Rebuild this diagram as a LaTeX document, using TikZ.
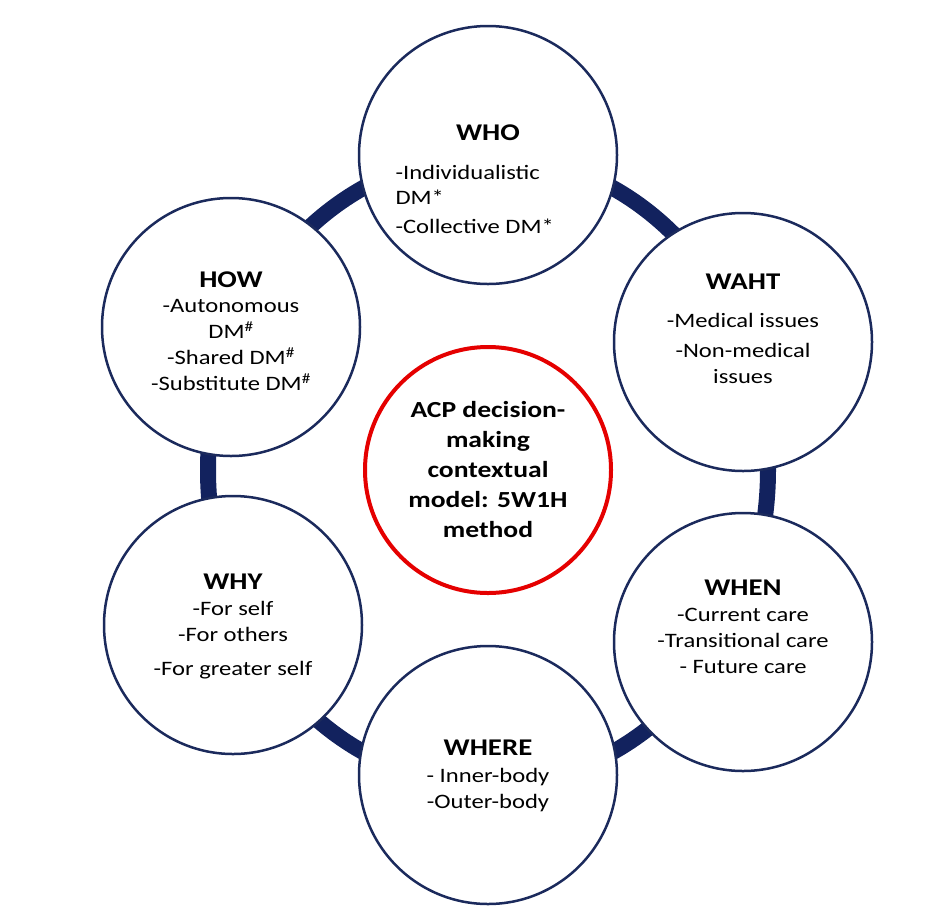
\documentclass[tikz,border=0pt]{standalone}
\usepackage{fontspec}
\setmainfont[FakeStretch=1.2]{Carlito}
\begin{document}
\begin{tikzpicture}[x=1pt,y=-1pt,
  bub/.style={circle,draw=navy,line width=2.5pt,fill=white,minimum size=258pt,inner sep=0pt},
  tx/.style={align=center,font=\fontsize{20.5}{26}\selectfont,anchor=north},
  hd/.style={font=\fontsize{24}{28}\selectfont\bfseries}]
\definecolor{navy}{HTML}{1B2A5C}
\definecolor{ring}{HTML}{12225E}
\useasboundingbox (0,0) rectangle (950,911);
\draw[ring,line width=16pt] (488,470) ellipse [x radius=280, y radius=315];
\node[bub] (who) at (488,155) {};
\node[hd] at (488,133) {WHO};
\node[align=left,font=\fontsize{20.5}{25}\selectfont,anchor=north west] at (392,162) {-Individualistic\\DM*\\[4pt]-Collective DM*};
\node[bub] (waht) at (743,342) {};
\node[hd] at (743,282) {WAHT};
\node[tx] at (743,310) {-Medical issues\\[4pt]-Non-medical\\issues};
\node[bub] (when) at (743,642) {};
\node[hd] at (743,588) {WHEN};
\node[tx] at (743,605) {-Current care\\-Transitional care\\- Future care};
\node[bub] (where) at (488,775) {};
\node[hd] at (488,748) {WHERE};
\node[tx] at (488,765) {- Inner-body\\-Outer-body};
\node[bub] (why) at (233,625) {};
\node[hd] at (233,582) {WHY};
\node[tx] at (233,598) {-For self\\-For others\\[8pt]-For greater self};
\node[bub] (how) at (231,327) {};
\node[hd] at (231,280) {HOW};
\node[tx] at (231,296) {-Autonomous\\DM\textsuperscript{\#}\\-Shared DM\textsuperscript{\#}\\-Substitute DM\textsuperscript{\#}};
\node[circle,draw=red!90!black,line width=4pt,fill=white,minimum size=246pt,align=center,font=\fontsize{23}{30}\selectfont\bfseries] (c) at (488,470) {ACP decision-\\making\\contextual\\model: 5W1H\\method};
\end{tikzpicture}
\end{document}
